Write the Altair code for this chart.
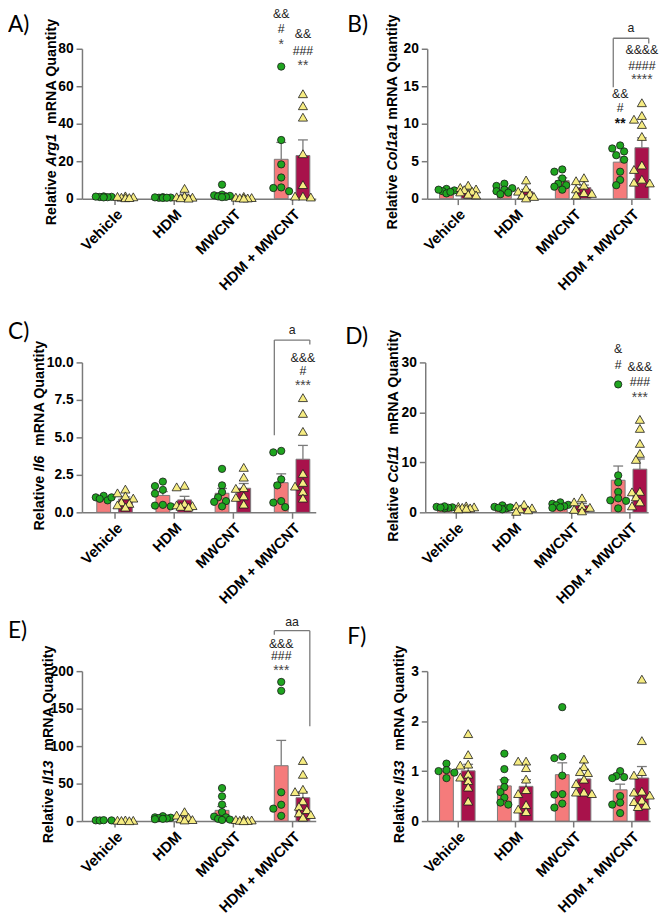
import json
import altair as alt
import numpy as np
import pandas as pd

GROUPS = ["Vehicle", "HDM", "MWCNT", "HDM + MWCNT"]
SEXES = ["Female", "Male"]

# ---- values (per group: Vehicle, HDM, MWCNT, HDM+MWCNT)
ARG1_F = [[1.0, 0.8, 1.2, 0.9, 1.1, 0.7], [0.6, 0.5, 0.8, 0.4, 0.7, 0.5],
          [7.5, 2.2, 1.8, 1.5, 1.2, 1.0, 0.8], [70.5, 31.3, 18.3, 11.3, 6.0, 5.7, 4.0]]
ARG1_M = [[1.5, 0.8, 1.2, 0.5, 1.0, 0.6], [5.5, 1.5, 1.0, 0.8, 0.5, 0.3],
          [1.2, 0.8, 0.6, 0.5, 0.4, 0.3], [56.0, 49.6, 43.5, 24.0, 7.5, 1.4, 0.9, 1.4]]

COL1A1_F = [[1.3, 1.0, 0.7, 1.1, 1.2, 0.9], [2.0, 1.7, 1.4, 1.2, 1.0, 0.8, 0.6],
            [3.9, 3.6, 2.7, 2.0, 1.8, 1.6, 1.2], [7.1, 6.7, 6.3, 5.8, 5.2, 3.6, 2.5, 1.8]]
COL1A1_M = [[1.8, 1.5, 1.3, 1.2, 1.0, 0.9, 0.6, 0.5], [2.5, 1.4, 1.0, 0.7, 0.5, 0.3, 0.1],
            [2.8, 2.4, 1.8, 1.3, 0.8, 0.7, 0.5], [12.8, 11.1, 10.6, 9.9, 8.3, 4.5, 3.9, 2.6, 2.2, 2.1]]

IL6_F = [[1.1, 1.0, 0.9, 0.8, 1.0], [2.05, 1.75, 1.5, 1.25, 0.5, 0.45, 0.4],
         [2.9, 1.8, 1.35, 1.0, 0.75, 0.7, 0.4], [4.1, 4.0, 2.2, 1.8, 0.75, 0.65, 0.35]]
IL6_M = [[1.55, 1.3, 1.1, 0.95, 0.7, 0.6, 0.5, 0.35], [1.8, 1.7, 0.6, 0.5, 0.45, 0.4, 0.35],
         [3.0, 2.35, 1.65, 1.6, 1.1, 1.0, 0.55], [7.65, 6.6, 5.4, 2.6, 2.0, 1.75, 1.4, 0.95]]

CCL11_F = [[1.0, 0.9, 1.1, 0.8, 1.2, 0.95], [1.4, 1.1, 0.8, 0.6, 1.0, 0.9],
           [2.0, 1.7, 1.5, 1.4, 1.2, 1.0, 0.9], [25.6, 7.4, 6.0, 4.1, 2.8, 2.4, 2.3, 0.8]]
CCL11_M = [[1.3, 1.2, 1.1, 1.0, 0.9, 0.8, 0.7], [1.6, 1.3, 0.9, 0.7, 0.5, 0.2],
           [2.9, 2.1, 1.4, 1.0, 0.6, 0.3], [18.6, 16.8, 13.8, 11.8, 10.6, 4.2, 4.1, 3.1, 2.1, 1.3]]

IL13_F = [[1.0, 0.8, 1.2, 0.9], [6.5, 5.0, 4.5, 4.0, 3.5, 3.0, 2.5],
          [44.0, 33.0, 22.0, 12.0, 6.0, 5.0, 3.0, 2.0, 1.5], [185.6, 173.8, 38.4, 21.8, 16.6, 7.0]]
IL13_M = [[1.5, 1.2, 1.0, 0.8, 0.5], [12.5, 8.0, 5.0, 3.0, 2.0, 1.5],
          [2.5, 2.0, 1.5, 1.0, 0.8, 0.5], [80.8, 62.4, 42.4, 39.3, 27.0, 19.7, 15.3, 10.9, 8.7, 5.2]]

IL33_F = [[1.15, 1.02, 1.0, 0.97, 0.86], [1.35, 1.04, 0.81, 0.68, 0.58, 0.47, 0.37, 0.33],
          [2.28, 1.29, 1.26, 0.91, 0.54, 0.53, 0.35, 0.27], [1.0, 0.9, 0.88, 0.86, 0.5, 0.37, 0.33, 0.16]]
IL33_M = [[1.75, 1.33, 1.14, 1.12, 0.94, 0.88, 0.81, 0.68, 0.4],
          [1.2, 1.2, 1.07, 0.84, 0.63, 0.55, 0.33, 0.24, 0.19],
          [1.24, 1.09, 0.99, 0.97, 0.84, 0.75, 0.58, 0.58, 0.55],
          [2.84, 1.61, 0.99, 0.92, 0.6, 0.58, 0.52, 0.42, 0.39, 0.32, 0.29]]

# significance annotations above HDM + MWCNT (sex, text, y value, bold)
ARG1_ANN = [("Female", "&&", 98.3, False), ("Female", "#", 90.4, False), ("Female", "*", 83.5, False),
            ("Male", "&&", 87.8, False), ("Male", "###", 78.6, False), ("Male", "**", 72.2, False)]
COL1A1_ANN = [("Female", "&&", 13.9, False), ("Female", "#", 12.1, False), ("Female", "**", 10.4, True),
              ("Male", "&&&&", 19.8, False), ("Male", "####", 17.7, False), ("Male", "****", 16.2, False)]
IL6_ANN = [("Male", "&&&", 10.28, False), ("Male", "#", 9.4, False), ("Male", "***", 8.64, False)]
CCL11_ANN = [("Female", "&", 32.6, False), ("Female", "#", 29.5, False),
             ("Male", "&&&", 29.0, False), ("Male", "###", 26.1, False), ("Male", "***", 23.4, False)]
IL13_ANN = [("Female", "&&&", 236.0, False), ("Female", "###", 219.8, False), ("Female", "***", 204.4, False)]
IL33_ANN = []

# brackets: (label, horizontal y, left leg bottom, right leg bottom, label y)
COL1A1_BR = ("a", 21.4, 14.85, 20.7, 22.75)
IL6_BR = ("a", 11.49, 5.14, 11.2, 12.14)
IL13_BR = ("aa", 254.0, 248.4, 126.6, 266.0)

GREEN = "#1FA51F"
YELLOW = "#F6EC82"
SALMON = "#F57B7B"
CRIMSON = "#A8124B"
GRAY = "#7A7A7A"
FONT = "Liberation Sans"
H = 152

EM = {"Arg1": 2.278, "Col1a1": 3.279, "Il6": 1.112, "Ccl11": 2.668, "Il13": 1.668, "Il33": 1.668}


def beeswarm(vals, ppu_y, ppu_x, diam=8.0):
    order = np.argsort(-np.array(vals), kind="stable")
    placed = []
    res = [0.0] * len(vals)
    offs = [0, -4, 4, -8, 8]
    for i in order:
        y = vals[i] * ppu_y
        best, bestd, cand = None, -1, 0
        for o in offs:
            md = min([np.hypot(o - px, y - py) for px, py in placed], default=1e9)
            if md >= diam * 0.8:
                best = o
                break
            if md > bestd:
                bestd, cand = md, o
        if best is None:
            best = cand
        placed.append((best, y))
        res[i] = best / ppu_x
    return res


def panel(F, M, ymax, step, fmt, gene, title_x, gap, letter, letter_x, letter_y, ann, br, width, xdom):
    ppu_y = H / ymax
    ppu_x = width / (xdom[1] - xdom[0])
    off = 11.0 / ppu_x
    hw = 7.0 / ppu_x
    cap = 5.0 / ppu_x
    rows, summ = [], []
    for sex, arr, sgn in [("Female", F, -1), ("Male", M, 1)]:
        for g, vals in enumerate(arr):
            pos = g + sgn * off
            jit = beeswarm(vals, ppu_y, ppu_x)
            for v, j in zip(vals, jit):
                rows.append({"sex": sex, "value": v, "xp": pos + j})
            a = np.array(vals)
            mean = a.mean()
            sem = a.std(ddof=1) / np.sqrt(len(a))
            summ.append({"sex": sex, "pos": pos, "left": pos - hw, "right": pos + hw,
                         "mean": mean, "upper": mean + sem, "cl": pos - cap, "cr": pos + cap})
    pts = pd.DataFrame(rows)
    sm = pd.DataFrame(summ)

    xscale = alt.Scale(domain=list(xdom), nice=False, zero=False)
    yscale = alt.Scale(domain=[0, ymax], nice=False, zero=True)
    xaxis = alt.Axis(values=[0, 1, 2, 3], labelExpr=json.dumps(GROUPS) + "[datum.value]",
                     labelAngle=-45, labelAlign="right", labelBaseline="top",
                     labelFontSize=15, labelFontWeight="bold", labelFont=FONT, labelColor="black",
                     title=None, grid=False, tickSize=6, labelPadding=2, labelFlush=False,
                     labelOverlap=False, labelBound=False, orient="bottom",
                     domainColor=GRAY, tickColor=GRAY, domainWidth=1.5, tickWidth=1.5)
    ticks = list(np.round(np.arange(0, ymax + step / 2, step), 4))
    yaxis = alt.Axis(values=ticks, format=fmt, title=None, grid=False, tickSize=6,
                     labelFontSize=14, labelFontWeight="bold", labelFont=FONT, labelColor="black",
                     labelPadding=3, labelFlush=False, labelOverlap=False, orient="left",
                     domainColor=GRAY, tickColor=GRAY, domainWidth=1.5, tickWidth=1.5)

    def X(f):
        return alt.X(f + ":Q", scale=xscale, axis=xaxis)

    def Y(f):
        return alt.Y(f + ":Q", scale=yscale, axis=yaxis)

    bars = alt.Chart(sm).mark_bar(stroke=GRAY, strokeWidth=1).encode(
        x=X("left"), x2="right", y=Y("mean"), y2=alt.datum(0),
        fill=alt.condition(alt.datum.sex == "Female", alt.value(SALMON), alt.value(CRIMSON)))
    err = alt.Chart(sm).mark_rule(color=GRAY, strokeWidth=1.3).encode(
        x=X("pos"), y=Y("mean"), y2="upper")
    caps = alt.Chart(sm).mark_rule(color=GRAY, strokeWidth=1.3).encode(
        x=X("cl"), x2="cr", y=Y("upper"))
    leg = alt.Legend(title=None, orient="none", legendX=21, legendY=-36,
                     strokeColor="#6a6a6a", padding=11, labelFontSize=15, labelFont=FONT,
                     labelColor="black", symbolSize=75, symbolStrokeColor="#1a1a1a",
                     symbolStrokeWidth=0.8, rowPadding=6, labelOffset=14)
    points = alt.Chart(pts).mark_point(filled=True, stroke="#1a1a1a", strokeWidth=0.8,
                                        opacity=1).encode(
        x=X("xp"), y=Y("value"),
        fill=alt.Fill("sex:N", scale=alt.Scale(domain=SEXES, range=[GREEN, YELLOW]), legend=leg),
        shape=alt.Shape("sex:N", scale=alt.Scale(domain=SEXES, range=["circle", "triangle-up"]), legend=leg),
        size=alt.Size("sex:N", scale=alt.Scale(domain=SEXES, range=[55, 85]), legend=None))
    layers = [bars, err, caps, points]

    if ann:
        adf = pd.DataFrame([{"x": 3 + (-off if s == "Female" else off), "y": y, "t": t,
                             "star": "*" in t, "bold": b} for s, t, y, b in ann])
        layers.append(alt.Chart(adf).transform_filter("!datum.star").mark_text(
            fontSize=12.5, font=FONT, color="#222", baseline="middle").encode(
            x=X("x"), y=Y("y"), text="t:N"))
        layers.append(alt.Chart(adf).transform_filter("datum.star && !datum.bold").mark_text(
            fontSize=14, font=FONT, color="#444", baseline="middle", dy=3).encode(
            x=X("x"), y=Y("y"), text="t:N"))
        layers.append(alt.Chart(adf).transform_filter("datum.star && datum.bold").mark_text(
            fontSize=14, font=FONT, fontWeight="bold", color="#111", baseline="middle", dy=3).encode(
            x=X("x"), y=Y("y"), text="t:N"))
    if br:
        lab, yh, yl, yr, ya = br
        xl, xr = 3 - off - hw, 3 + off + hw
        bdf = pd.DataFrame([{"x": xl, "x2": xr, "y": yh, "y2": yh},
                            {"x": xl, "x2": xl, "y": yl, "y2": yh},
                            {"x": xr, "x2": xr, "y": yr, "y2": yh}])
        layers.append(alt.Chart(bdf).mark_rule(color=GRAY, strokeWidth=1.3).encode(
            x=X("x"), x2="x2", y=Y("y"), y2="y2"))
        layers.append(alt.Chart(pd.DataFrame([{"x": 3.0, "y": ya, "t": lab}])).mark_text(
            fontSize=12.5, font=FONT, color="#222", baseline="middle").encode(
            x=X("x"), y=Y("y"), text="t:N"))

    # y-axis title with italic gene name
    fs = 14.5
    w_rel = 4.113 * fs
    w_gene = EM[gene] * fs
    w_mrna = 7.389 * fs
    total = w_rel + w_gene + gap + w_mrna
    bottom = 74 + total / 2
    pieces = [("Relative ", bottom, "normal"), (gene, bottom - w_rel, "italic"),
              ("mRNA Quantity", bottom - w_rel - w_gene - gap, "normal")]
    for txt, yy, style in pieces:
        layers.append(alt.Chart(pd.DataFrame({"t": [txt]})).mark_text(
            angle=270, align="left", baseline="middle", fontSize=fs, fontWeight="bold",
            fontStyle=style, font=FONT, color="black").encode(
            text="t:N", x=alt.value(title_x), y=alt.value(yy)))
    layers.append(alt.Chart(pd.DataFrame({"t": [letter]})).mark_text(
        align="left", baseline="middle", fontSize=23, font="Lato", color="black").encode(
        text="t:N", x=alt.value(letter_x), y=alt.value(letter_y)))

    return alt.layer(*layers).properties(width=width, height=H)


LX = (-0.55, 3.4)
RX = (-0.52, 3.33)
A = panel(ARG1_F, ARG1_M, 80, 20, "d", "Arg1", -30, 10, "A)", -75, -24, ARG1_ANN, None, 237, LX)
B = panel(COL1A1_F, COL1A1_M, 20, 5, "d", "Col1a1", -35, 4, "B)", -81, -24, COL1A1_ANN, COL1A1_BR, 226, RX)
C = panel(IL6_F, IL6_M, 10, 2.5, ".1f", "Il6", -43, 10, "C)", -75, -31, IL6_ANN, IL6_BR, 237, LX)
D = panel(CCL11_F, CCL11_M, 30, 10, "d", "Ccl11", -32, 10, "D)", -81, -26, CCL11_ANN, None, 226, RX)
E = panel(IL13_F, IL13_M, 200, 50, "d", "Il13", -33, 10, "E)", -75, -41, IL13_ANN, IL13_BR, 237, LX)
Fp = panel(IL33_F, IL33_M, 3, 1, "d", "Il33", -28, 10, "F)", -81, -35, IL33_ANN, None, 226, RX)


def res(c):
    return c.resolve_scale(fill="independent", shape="independent", size="independent").resolve_legend(
        fill="independent", shape="independent", size="independent")


row1 = res(alt.hconcat(A, B, spacing=30))
row2 = res(alt.hconcat(C, D, spacing=30))
row3 = res(alt.hconcat(E, Fp, spacing=30))
top = res(alt.vconcat(row1, row2, spacing=28))
chart = res(alt.vconcat(top, row3, spacing=8)).properties(
    padding={"left": 0, "top": -6, "right": 0, "bottom": 0}).configure_view(
    strokeWidth=0, stroke="transparent").configure_axis(
    grid=False, gridOpacity=0).configure_axisTop(domainOpacity=0).configure(
    font=FONT, style={"cell": {"stroke": "transparent", "strokeWidth": 0}})

chart.save("out.html", embed_options={"renderer": "svg", "actions": False})
